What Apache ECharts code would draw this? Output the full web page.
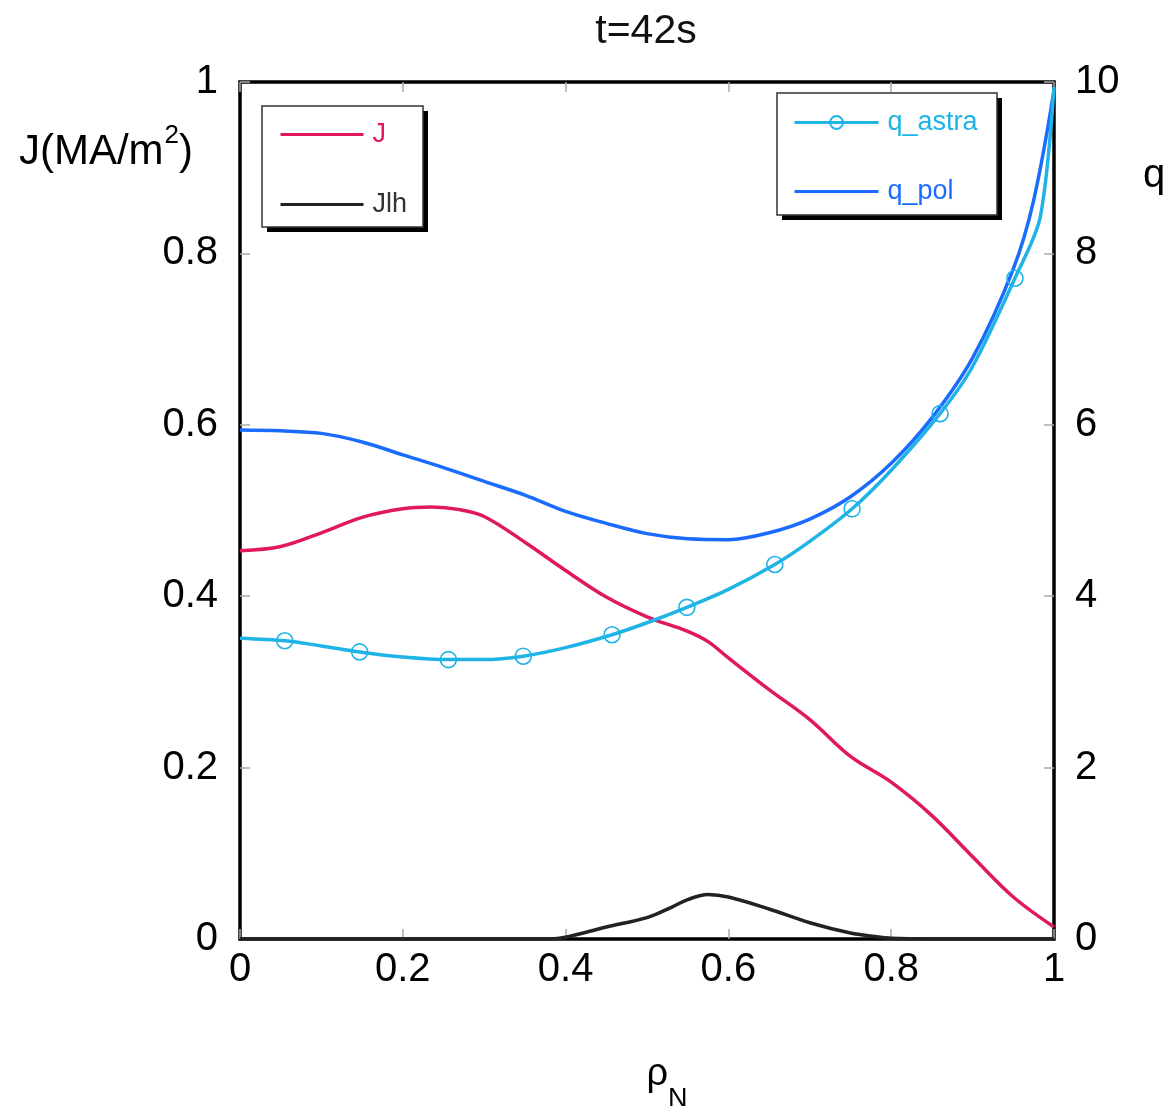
<!DOCTYPE html>
<html>
<head>
<meta charset="utf-8">
<title>t=42s</title>
<script src="https://cdn.jsdelivr.net/npm/echarts@6/dist/echarts.min.js"></script>
<style>
  html, body { margin: 0; padding: 0; background: #fff; }
  #chart { width: 1164px; height: 1106px; }
</style>
</head>
<body>
<div id="chart"></div>
<script>
// Current density profiles (left axis, MA/m^2)
const rhoJ = [0, 0.05, 0.1, 0.15, 0.2, 0.235, 0.27, 0.3, 0.35, 0.4, 0.45, 0.5, 0.55, 0.575, 0.6, 0.65, 0.7, 0.75, 0.8, 0.85, 0.9, 0.95, 1.0];
const jVals = [0.453, 0.458, 0.474, 0.492, 0.502, 0.504, 0.501, 0.493, 0.463, 0.430, 0.399, 0.376, 0.359, 0.347, 0.328, 0.291, 0.256, 0.213, 0.183, 0.144, 0.096, 0.049, 0.014];

const rhoJlh = [0, 0.1, 0.2, 0.3, 0.38, 0.4, 0.45, 0.5, 0.53, 0.55, 0.575, 0.6, 0.65, 0.7, 0.75, 0.78, 0.8, 0.9, 1.0];
const jlhVals = [0, 0, 0, 0, 0, 0.002, 0.014, 0.025, 0.037, 0.046, 0.052, 0.049, 0.035, 0.019, 0.007, 0.003, 0.001, 0, 0];

// Safety factor profiles (right axis)
const rhoQpol = [0, 0.05, 0.1, 0.15, 0.2, 0.25, 0.3, 0.35, 0.4, 0.45, 0.5, 0.55, 0.6, 0.65, 0.7, 0.75, 0.8, 0.85, 0.9, 0.95, 0.975, 1.0];
const qPolVals = [5.94, 5.93, 5.90, 5.80, 5.65, 5.50, 5.34, 5.18, 4.99, 4.85, 4.73, 4.67, 4.66, 4.74, 4.90, 5.16, 5.55, 6.08, 6.78, 7.82, 8.62, 9.90];

const rhoQastra = [0, 0.055, 0.1, 0.147, 0.2, 0.256, 0.3, 0.348, 0.4, 0.457, 0.5, 0.549, 0.6, 0.657, 0.7, 0.752, 0.8, 0.86, 0.9, 0.952, 0.983, 1.0];
const qAstraVals = [3.51, 3.48, 3.42, 3.35, 3.29, 3.26, 3.26, 3.30, 3.40, 3.55, 3.69, 3.87, 4.08, 4.37, 4.64, 5.02, 5.47, 6.13, 6.68, 7.71, 8.42, 9.94];
// points of q_astra that carry a circle marker
const qAstraMarked = [false, true, false, true, false, true, false, true, false, true, false, true, false, true, false, true, false, true, false, true, false, false];

const xTicks = [0, 0.2, 0.4, 0.6, 0.8, 1];
const jTicks = [0, 0.2, 0.4, 0.6, 0.8, 1];
const qTicks = [0, 2, 4, 6, 8, 10];

const FONT = 'Liberation Sans';
const C_J = '#e0195a';
const C_JLH = '#222222';
const C_QPOL = '#1a6cff';
const C_QASTRA = '#1fb3e6';
const LW = 3.5;

function pairs(xs, ys) { return xs.map((x, i) => [x, ys[i]]); }

const astraData = rhoQastra.map((x, i) => (
  qAstraMarked[i] ? { value: [x, qAstraVals[i]] } : { value: [x, qAstraVals[i]], symbol: 'none' }
));

// short grey ticks pointing into the plot on all four sides
const tickStyle = { show: true, inside: true, length: 10, lineStyle: { color: '#aaa', width: 1.5 } };
const noLine = { show: false, onZero: false };
const hiddenMark = { color: 'rgba(0,0,0,0)', borderWidth: 0 };

// legend frames: white box with a hard black drop shadow
function legendFrame(x, y, w, h) {
  return [
    { type: 'rect', z: 5, shape: { x: x + 5, y: y + 5, width: w, height: h }, style: { fill: '#000' } },
    { type: 'rect', z: 6, shape: { x: x, y: y, width: w, height: h }, style: { fill: '#fff', stroke: '#333', lineWidth: 1.5 } }
  ];
}

const chart = echarts.init(document.getElementById('chart'), null, { renderer: 'canvas' });
chart.setOption({
  animation: false,
  backgroundColor: '#fff',
  textStyle: { fontFamily: FONT },
  title: {
    text: 't=42s',
    left: 641,
    top: 6,
    textAlign: 'center',
    textStyle: { fontFamily: FONT, fontSize: 41, fontWeight: 'normal', color: '#111' }
  },
  grid: {
    left: 240, right: 110, top: 82, bottom: 167,
    outerBoundsMode: 'none',
    show: true, borderColor: '#000', borderWidth: 3.5, backgroundColor: 'transparent'
  },
  graphic: [].concat(
    legendFrame(262, 106, 161, 121),
    legendFrame(777, 93, 220, 122),
    [{
      type: 'text', z: 10, left: 1143, top: 156,
      style: { text: 'q', font: '40px "Liberation Sans"', fill: '#000' }
    }]
  ),
  legend: [
    {
      data: [
        { name: 'J', textStyle: { color: C_J }, itemStyle: hiddenMark },
        { name: 'Jlh', textStyle: { color: '#333' }, itemStyle: hiddenMark }
      ],
      orient: 'vertical', left: 262, top: 106, z: 10,
      itemWidth: 83, itemHeight: 16, itemGap: 43,
      padding: [15, 18, 15, 17],
      lineStyle: { width: 3 },
      textStyle: { fontFamily: FONT, fontSize: 27, padding: [0, 0, 0, 4] }
    },
    {
      data: [
        { name: 'q_astra', textStyle: { color: C_QASTRA } },
        { name: 'q_pol', textStyle: { color: C_QPOL }, itemStyle: hiddenMark }
      ],
      orient: 'vertical', left: 777, top: 93, z: 10,
      itemWidth: 84, itemHeight: 16, itemGap: 42,
      padding: [16, 16, 16, 16],
      lineStyle: { width: 3 },
      textStyle: { fontFamily: FONT, fontSize: 27, padding: [0, 0, 0, 4] }
    }
  ],
  xAxis: [
    {
      type: 'value', position: 'bottom', min: xTicks[0], max: xTicks[xTicks.length - 1], interval: 0.2,
      axisLine: noLine, axisTick: tickStyle, splitLine: { show: false },
      axisLabel: { fontFamily: FONT, fontSize: 40, color: '#000', margin: 11 },
      name: '{r|ρ}{n|N}', nameLocation: 'middle', nameGap: 117,
      nameTextStyle: {
        padding: [0, 0, 0, 40],
        rich: {
          r: { fontFamily: FONT, fontSize: 38, lineHeight: 38, color: '#000', verticalAlign: 'top' },
          n: { fontFamily: FONT, fontSize: 27, lineHeight: 27, color: '#000', verticalAlign: 'top', padding: [30, 0, 0, 0] }
        }
      }
    },
    {
      type: 'value', position: 'top', min: xTicks[0], max: xTicks[xTicks.length - 1], interval: 0.2,
      axisLine: noLine, axisTick: tickStyle, axisLabel: { show: false }, splitLine: { show: false }
    }
  ],
  yAxis: [
    {
      type: 'value', position: 'left', min: jTicks[0], max: jTicks[jTicks.length - 1], interval: 0.2,
      axisLine: noLine, axisTick: tickStyle, splitLine: { show: false },
      axisLabel: { fontFamily: FONT, fontSize: 40, color: '#000', margin: 22 },
      name: '{m|J(MA/m}{s|2}{m|)}', nameLocation: 'end', nameGap: -70,
      nameTextStyle: {
        align: 'right', verticalAlign: 'middle', padding: [0, 47, 0, 0],
        rich: {
          m: { fontFamily: FONT, fontSize: 42, lineHeight: 42, color: '#000', verticalAlign: 'bottom' },
          s: { fontFamily: FONT, fontSize: 26, lineHeight: 26, color: '#000', verticalAlign: 'bottom', padding: [0, 0, 24, 1] }
        }
      }
    },
    {
      type: 'value', position: 'right', min: qTicks[0], max: qTicks[qTicks.length - 1], interval: 2,
      axisLine: noLine, axisTick: tickStyle, splitLine: { show: false },
      axisLabel: { fontFamily: FONT, fontSize: 40, color: '#000', margin: 21 }
    }
  ],
  series: [
    {
      name: 'J', type: 'line', xAxisIndex: 0, yAxisIndex: 0,
      data: pairs(rhoJ, jVals), smooth: 0.35, symbol: 'none',
      lineStyle: { color: C_J, width: LW }, itemStyle: { color: C_J }, z: 3
    },
    {
      name: 'Jlh', type: 'line', xAxisIndex: 0, yAxisIndex: 0,
      data: pairs(rhoJlh, jlhVals), smooth: 0.35, symbol: 'none',
      lineStyle: { color: C_JLH, width: LW }, itemStyle: { color: C_JLH }, z: 3
    },
    {
      name: 'q_astra', type: 'line', xAxisIndex: 0, yAxisIndex: 1,
      data: astraData, smooth: 0.3, symbol: 'circle', symbolSize: 16, showAllSymbol: true,
      lineStyle: { color: C_QASTRA, width: LW },
      itemStyle: { color: 'rgba(0,0,0,0)', borderColor: C_QASTRA, borderWidth: 1.6 }, z: 4
    },
    {
      name: 'q_pol', type: 'line', xAxisIndex: 0, yAxisIndex: 1,
      data: pairs(rhoQpol, qPolVals), smooth: 0.35, symbol: 'none',
      lineStyle: { color: C_QPOL, width: LW }, itemStyle: { color: C_QPOL }, z: 3
    }
  ]
});
</script>
</body>
</html>
